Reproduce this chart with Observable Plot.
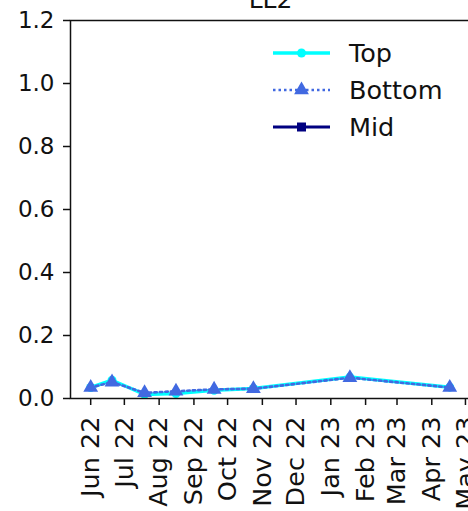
<!DOCTYPE html>
<html>
<head>
<meta charset="utf-8">
<script src="https://cdn.jsdelivr.net/npm/d3@7"></script>
<script src="https://cdn.jsdelivr.net/npm/@observablehq/plot@0.6"></script>
<style>
  html, body { margin: 0; padding: 0; background: #fff; }
  #wrap { position: relative; width: 468px; height: 511px; overflow: hidden; font-family: "DejaVu Sans", sans-serif; }
  #wrap > svg { max-width: none !important; position: absolute; left: 0; top: 0; }
  #legend { position: absolute; left: 270px; top: 34px; }
  #legend .row { display: flex; align-items: center; height: 37px; font-size: 25.5px; color: #111; }
  #legend svg { margin-right: 17px; }
</style>
</head>
<body>
<div id="wrap"></div>
<script>
const title = "LL2";
const seriesNames = ["Top", "Bottom", "Mid"];
const dates = ["2022-06-01", "2022-06-20", "2022-07-19", "2022-08-16", "2022-09-19", "2022-10-24", "2023-01-18", "2023-04-17"];
const topValues = [0.035, 0.058, 0.013, 0.016, 0.026, 0.032, 0.068, 0.036];
const bottomValues = [0.035, 0.052, 0.018, 0.023, 0.029, 0.031, 0.066, 0.035];
const midValues = [];
const yTicks = [0, 0.2, 0.4, 0.6, 0.8, 1.0, 1.2];
const xTickDates = ["2022-06-01", "2022-07-01", "2022-08-01", "2022-09-01", "2022-10-01", "2022-11-01", "2022-12-01", "2023-01-01", "2023-02-01", "2023-03-01", "2023-04-01", "2023-05-01"];

const parse = d3.utcParse("%Y-%m-%d");
const topData = dates.map((d, i) => ({date: parse(d), value: topValues[i]}));
const bottomData = dates.map((d, i) => ({date: parse(d), value: bottomValues[i]}));
const midData = midValues.map((v, i) => ({date: parse(dates[i]), value: v}));

const styles = {
  Top: {color: "#00ffff", symbol: "circle", dash: null, width: 3.5},
  Bottom: {color: "#4169e1", symbol: "triangle", dash: "2.5,3", width: 2.6},
  Mid: {color: "#000080", symbol: "square", dash: null, width: 2.8}
};

const chart = Plot.plot({
  width: 475,
  height: 511,
  marginLeft: 70,
  marginRight: 5,
  marginTop: 20,
  marginBottom: 113,
  style: {fontFamily: "DejaVu Sans", fontSize: "23px", color: "#111", background: "#fff", overflow: "visible", maxWidth: "none"},
  x: {type: "utc", domain: [new Date(Date.UTC(2022, 4, 14)), new Date(Date.UTC(2023, 4, 5, 12))]},
  y: {domain: [0, 1.2]},
  marks: [
    Plot.axisY({ticks: yTicks, tickFormat: d3.format(".1f"), tickSize: 7, tickPadding: 9, label: null, stroke: "#111", strokeWidth: 1.5}),
    Plot.axisX({ticks: xTickDates.map(parse), tickFormat: d3.utcFormat("%b %y"), tickRotate: -90, tickSize: 7, tickPadding: 11, fontSize: 25.5, label: null, stroke: "#111", strokeWidth: 1.5}),
    Plot.line(topData, {x: "date", y: "value", stroke: styles.Top.color, strokeWidth: styles.Top.width}),
    Plot.dot(topData, {x: "date", y: "value", fill: styles.Top.color, r: 4.5, symbol: "circle"}),
    Plot.line(midData, {x: "date", y: "value", stroke: styles.Mid.color, strokeWidth: styles.Mid.width}),
    Plot.dot(midData, {x: "date", y: "value", fill: styles.Mid.color, r: 4.5, symbol: "square"}),
    Plot.line(bottomData, {x: "date", y: "value", stroke: styles.Bottom.color, strokeWidth: styles.Bottom.width, strokeDasharray: styles.Bottom.dash}),
    Plot.dot(bottomData, {x: "date", y: "value", fill: styles.Bottom.color, r: 5.5, symbol: "triangle"}),
    Plot.frame({stroke: "#111", strokeWidth: 1.5}),
    Plot.text([title], {frameAnchor: "top", dy: -13, lineAnchor: "bottom", text: d => d, fontSize: 25, fill: "#111"})
  ]
});

const wrap = document.getElementById("wrap");
wrap.appendChild(chart);

const legend = document.createElement("div");
legend.id = "legend";
for (const name of seriesNames) {
  const s = styles[name];
  const row = document.createElement("div");
  row.className = "row";
  const svg = d3.create("svg").attr("width", 62).attr("height", 20);
  svg.append("line").attr("x1", 3).attr("x2", 60).attr("y1", 10).attr("y2", 10)
    .attr("stroke", s.color).attr("stroke-width", s.width).attr("stroke-dasharray", s.dash);
  const sym = {circle: d3.symbolCircle, triangle: d3.symbolTriangle, square: d3.symbolSquare}[s.symbol];
  const area = {circle: Math.PI * 4.5 * 4.5, triangle: 5.5 * 5.5 * Math.PI, square: 9 * 9}[s.symbol];
  svg.append("path").attr("d", d3.symbol(sym, area)()).attr("transform", "translate(31.5,10)").attr("fill", s.color);
  row.appendChild(svg.node());
  const label = document.createElement("span");
  label.textContent = name;
  row.appendChild(label);
  legend.appendChild(row);
}
wrap.appendChild(legend);
</script>
</body>
</html>
